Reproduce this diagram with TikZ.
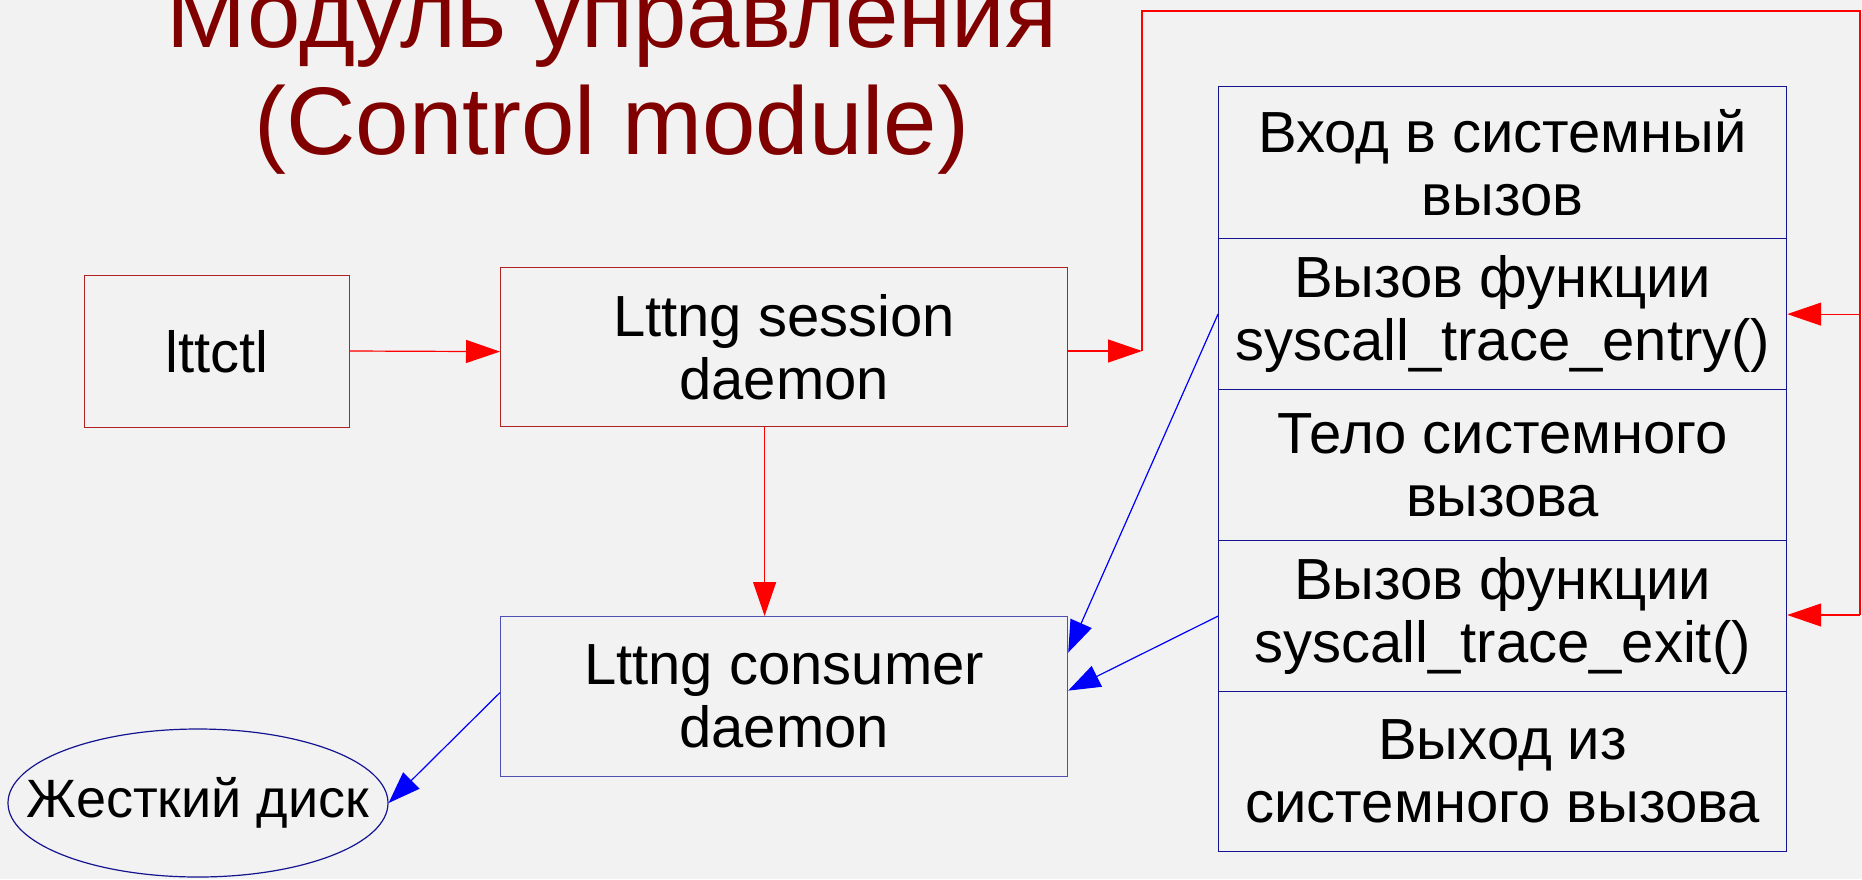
\documentclass[tikz,border=0pt]{standalone}
\usepackage{fontspec}
\setmainfont{Liberation Sans}
\usetikzlibrary{arrows.meta,shapes.geometric}
\definecolor{titlered}{HTML}{800000}
\definecolor{boxred}{RGB}{175,35,35}
\definecolor{consblue}{RGB}{80,80,180}
\definecolor{navyline}{RGB}{20,20,145}
\definecolor{bg}{HTML}{F2F2F2}
\tikzset{
  boxtext/.style={font=\fontsize{58}{63}\selectfont, align=center, text=black, inner sep=0pt},
  redbox/.style={boxtext, draw=boxred, line width=1.2pt, anchor=north west},
  consbox/.style={boxtext, draw=consblue, line width=1.2pt, anchor=north west},
  stackbox/.style={boxtext, draw=navyline, line width=1.2pt, anchor=north west, minimum width=568},
  diskshape/.style={ellipse, draw=navyline, line width=1.2pt, inner sep=0pt,
    minimum width=380, minimum height=148},
  disklabel/.style={font=\fontsize{54}{60}\selectfont, text=black, inner sep=0pt},
  titletext/.style={font=\fontsize{96}{107}\selectfont, text=titlered, anchor=base, inner sep=0pt},
  redarrow/.style={draw=red, line width=1.2pt, -{Triangle[length=34pt,width=23pt]}, fill=red},
  redline/.style={draw=red, line width=1.2pt},
  bluearrow/.style={draw=blue, line width=1.2pt, -{Triangle[length=32pt,width=23pt]}, fill=blue},
}
\begin{document}
\begin{tikzpicture}[x=1pt,y=-1pt]
\useasboundingbox[fill=bg] (0,0) rectangle (1862,879);

% title
\node[titletext] (title1) at (612,47) {Модуль управления};
\node[titletext] (title2) at (612,154) {(Control module)};

% boxes
\node[redbox, minimum width=265, minimum height=152] (lttctl) at (84,275) {lttctl};
\node[redbox, minimum width=567, minimum height=159] (session) at (500,267) {Lttng session\\daemon};
\node[consbox, minimum width=567, minimum height=160] (consumer) at (500,616) {Lttng consumer\\daemon};

% stack
\node[stackbox, minimum height=152] (enter) at (1218,86) {Вход в системный\\вызов};
\node[stackbox, minimum height=151] (entry) at (1218,238) {Вызов функции\\syscall\_trace\_entry()};
\node[stackbox, minimum height=151] (body) at (1218,389) {Тело системного\\вызова};
\node[stackbox, minimum height=151] (exitf) at (1218,540) {Вызов функции\\syscall\_trace\_exit()};
\node[stackbox, minimum height=160] (leave) at (1218,691) {Выход из\\системного вызова};

% disk
\node[diskshape, label={[disklabel]center:Жесткий диск}] (disk) at (198,803) {};

% loop coordinates
\coordinate (j) at (1142,351);
\coordinate (c1) at (1142,11);
\coordinate (c2) at (1860,11);
\coordinate (c3) at (1860,615);

% red connectors
\draw[redarrow] (lttctl.east |- j) -- (lttctl.east -| session.west);
\draw[redarrow] (session.east |- j) -- (j);
\draw[redline] (j) -- (c1) -- (c2) -- (c3);
\draw[redarrow] (c3) -- (c3 -| exitf.east);
\draw[redarrow] (c2 |- entry.east) -- (entry.east);
\draw[redarrow] ([xshift=-19.5]session.south) -- ([xshift=-19.5]consumer.north);

% blue connectors
\draw[bluearrow] (entry.west) -- ([yshift=44]consumer.east);
\draw[bluearrow] (exitf.west) -- ([yshift=6]consumer.east);
\draw[bluearrow] ([yshift=4]consumer.west) -- (disk.east);
\end{tikzpicture}
\end{document}
